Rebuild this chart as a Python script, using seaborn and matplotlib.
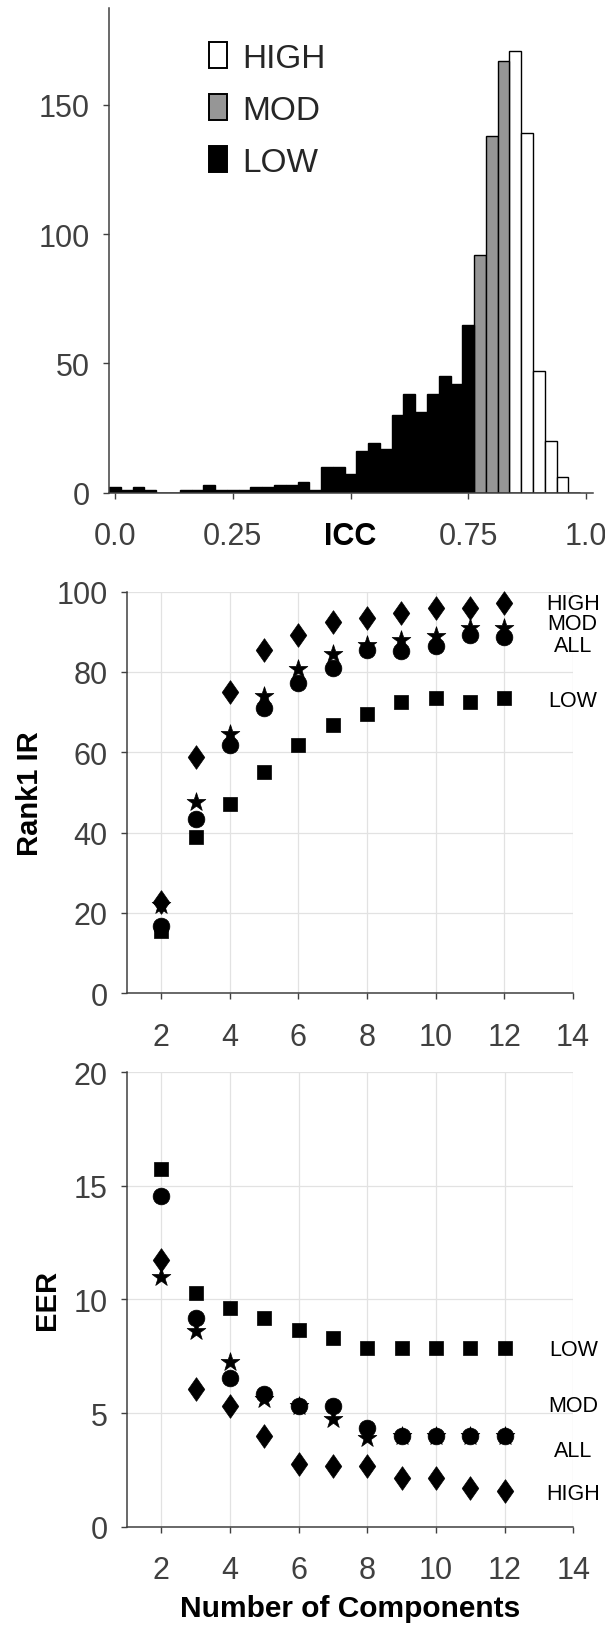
import numpy as np
import pandas as pd
import matplotlib
matplotlib.use("Agg")
import matplotlib.pyplot as plt
from matplotlib.patches import Patch
from matplotlib.path import Path
import seaborn as sns

# ---------------- data ----------------
icc_bin_centers = [round(0.025 * i, 3) for i in range(40)]
icc_counts = [2, 1, 2, 1, 0, 0, 1, 1, 3, 1, 1, 1, 2, 2, 3, 3, 4, 1, 10, 10,
              7, 16, 19, 17, 30, 38, 31, 38, 45, 42, 65, 92, 138, 167, 171, 139, 47, 20, 6, 0]
icc_groups = ["LOW"] * 31 + ["MOD"] * 3 + ["HIGH"] * 6

components = [2, 3, 4, 5, 6, 7, 8, 9, 10, 11, 12]
rank1_high = [22.8, 58.9, 74.9, 85.5, 89.1, 92.3, 93.4, 94.6, 95.8, 95.8, 97.1]
rank1_mod = [22.0, 47.5, 64.6, 73.9, 80.7, 84.4, 86.6, 88.0, 89.0, 91.0, 91.0]
rank1_all = [16.8, 43.3, 61.7, 71.0, 77.2, 80.9, 85.5, 85.2, 86.5, 89.1, 88.8]
rank1_low = [15.5, 39.0, 47.0, 55.1, 61.9, 66.8, 69.4, 72.5, 73.5, 72.5, 73.5]

eer_low = [15.72, 10.26, 9.62, 9.17, 8.64, 8.32, 7.88, 7.88, 7.88, 7.88, 7.88]
eer_all = [14.53, 9.17, 6.55, 5.85, 5.29, 5.29, 4.35, 3.97, 3.97, 3.97, 3.97]
eer_mod = [11.0, 8.61, 7.25, 5.6, 5.3, 4.74, 3.92, 3.97, 3.97, 3.97, 3.97]
eer_high = [11.73, 6.05, 5.29, 4.0, 2.78, 2.68, 2.68, 2.13, 2.13, 1.71, 1.59]

icc_ticks = [0.0, 0.25, 0.5, 0.75, 1.0]
icc_ticklabels = ["0.0", "0.25", "ICC", "0.75", "1.0"]
comp_ticks = [2, 4, 6, 8, 10, 12, 14]

# label positions on the right-hand side (layout)
rank1_label_y = {"HIGH": 96.9, "MOD": 92.0, "ALL": 86.6, "LOW": 72.8}
eer_label_y = {"LOW": 7.79, "MOD": 5.34, "ALL": 3.36, "HIGH": 1.48}

# ---------------- style ----------------
sns.set_theme(style="ticks")
plt.rcParams["font.family"] = ["Liberation Sans", "DejaVu Sans"]
TICK_C = "#404040"
GRID_C = "#e2e2e2"

fig = plt.figure(figsize=(6.05, 16.31), dpi=100)

ax1 = fig.add_axes([0.1807, 0.6974, 0.7995, 0.2969])
ax2 = fig.add_axes([0.2099, 0.3904, 0.7367, 0.2463])
ax3 = fig.add_axes([0.2099, 0.0633, 0.7377, 0.2788])

# ---------------- histogram ----------------
edges = [round(0.025 * i - 0.0125, 4) for i in range(41)]
hist_df = pd.DataFrame({"icc": icc_bin_centers, "count": icc_counts, "group": icc_groups})
palette = {"LOW": "#000000", "MOD": "#969696", "HIGH": "#ffffff"}
sns.histplot(data=hist_df, x="icc", weights="count", hue="group", bins=edges,
             multiple="layer", palette=palette, alpha=1, edgecolor="black",
             linewidth=1.0, legend=False, ax=ax1)
ax1.set_xlim(-0.0121, 1.0149)
ax1.set_ylim(0, 187.4)
ax1.set_xticks(icc_ticks)
ax1.set_xticklabels(icc_ticklabels)
ax1.set_yticks([0, 50, 100, 150])
ax1.set_xlabel("")
ax1.set_ylabel("")

handles = [Patch(facecolor=palette[g], edgecolor="black", linewidth=1.4, label=g)
           for g in ["HIGH", "MOD", "LOW"]]
ax1.legend(handles=handles, loc="upper left", bbox_to_anchor=(0.206, 0.93),
           frameon=False, fontsize=24, handlelength=0.54, handleheight=0.81,
           handletextpad=0.45, labelspacing=0.62, borderpad=0, borderaxespad=0)

# ---------------- scatter panels ----------------
tall_diamond = Path([(0, 1), (0.7, 0), (0, -1), (-0.7, 0), (0, 1)],
                    [Path.MOVETO, Path.LINETO, Path.LINETO, Path.LINETO, Path.CLOSEPOLY])


def draw_panel(ax, series, ylim, yticks, ylabel, label_y):
    specs = {"LOW": ("s", 100), "ALL": ("o", 145), "MOD": ("*", 200), "HIGH": (tall_diamond, 290)}
    for name in ["LOW", "ALL", "MOD", "HIGH"]:
        marker, size = specs[name]
        sns.scatterplot(x=components, y=series[name], marker=marker, s=size,
                        color="black", edgecolor="black", linewidth=0.5,
                        ax=ax, clip_on=False, zorder=3)
    ax.set_xlim(1, 14)
    ax.set_ylim(*ylim)
    ax.set_xticks(comp_ticks)
    ax.set_yticks(yticks)
    ax.grid(True, color=GRID_C, linewidth=0.9)
    ax.set_axisbelow(True)
    ax.set_ylabel(ylabel, fontsize=21, fontweight="bold", color="black", labelpad=9)
    for name, yy in label_y.items():
        ax.text(14, yy, name, ha="center", va="center", fontsize=15.5,
                color="black", clip_on=False, linespacing=1.0)


draw_panel(ax2, {"HIGH": rank1_high, "MOD": rank1_mod, "ALL": rank1_all, "LOW": rank1_low},
           (0, 100), [0, 20, 40, 60, 80, 100], "Rank1 IR", rank1_label_y)
draw_panel(ax3, {"HIGH": eer_high, "MOD": eer_mod, "ALL": eer_all, "LOW": eer_low},
           (0, 20), [0, 5, 10, 15, 20], "EER", eer_label_y)
ax3.set_xlabel("Number of Components", fontsize=21.5, fontweight="bold",
               color="black", labelpad=6)

for ax in (ax1, ax2, ax3):
    for side in ("top", "right"):
        ax.spines[side].set_visible(False)
    for side in ("left", "bottom"):
        ax.spines[side].set_color(TICK_C)
        ax.spines[side].set_linewidth(1.1)
    ax.tick_params(axis="both", direction="out", length=4, width=1.0,
                   color=TICK_C, labelcolor=TICK_C, labelsize=22)
    ax.tick_params(axis="x", pad=16.5)
    ax.tick_params(axis="y", pad=10)
    ax.patch.set_alpha(0)

for lab in ax1.get_xticklabels():
    if lab.get_text() == "ICC":
        lab.set_fontweight("bold")
        lab.set_color("black")

fig.savefig("out.png", dpi=100)
